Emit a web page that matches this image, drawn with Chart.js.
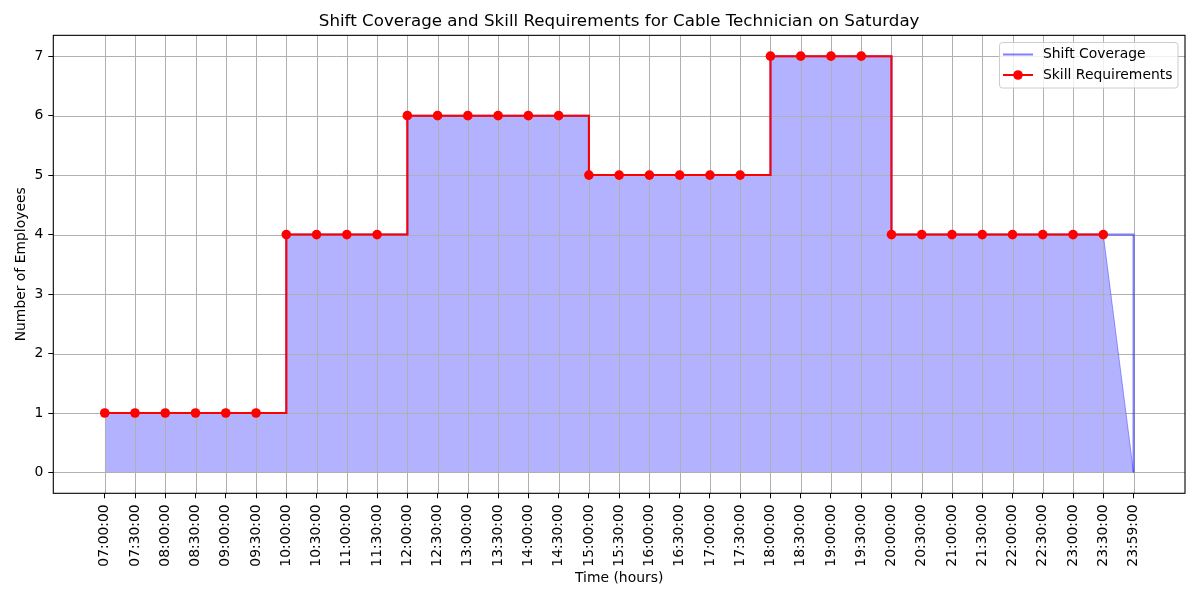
<!DOCTYPE html>
<html>
<head>
<meta charset="utf-8">
<title>Shift Coverage and Skill Requirements</title>
<script src="https://cdn.jsdelivr.net/npm/chart.js@4"></script>
<style>
    html, body { margin: 0; padding: 0; background: #ffffff; }
    #wrap { width: 1200px; height: 600px; }
</style>
</head>
<body>
<div id="wrap"><canvas id="shiftChart" width="1200" height="600"></canvas></div>
<script>
        // Time slots (category positions on the x axis)
        const timeLabels = [
            '07:00:00', '07:30:00', '08:00:00', '08:30:00', '09:00:00', '09:30:00',
            '10:00:00', '10:30:00', '11:00:00', '11:30:00', '12:00:00', '12:30:00',
            '13:00:00', '13:30:00', '14:00:00', '14:30:00', '15:00:00', '15:30:00',
            '16:00:00', '16:30:00', '17:00:00', '17:30:00', '18:00:00', '18:30:00',
            '19:00:00', '19:30:00', '20:00:00', '20:30:00', '21:00:00', '21:30:00',
            '22:00:00', '22:30:00', '23:00:00', '23:30:00', '23:59:00'
        ];
        // Employees required per slot (no value at 23:59)
        const skillRequirements = [
            1, 1, 1, 1, 1, 1,
            4, 4, 4, 4,
            6, 6, 6, 6, 6, 6,
            5, 5, 5, 5, 5, 5,
            7, 7, 7, 7,
            4, 4, 4, 4, 4, 4, 4, 4,
            null
        ];
        // Employees on shift per slot
        const shiftCoverage = [
            1, 1, 1, 1, 1, 1,
            4, 4, 4, 4,
            6, 6, 6, 6, 6, 6,
            5, 5, 5, 5, 5, 5,
            7, 7, 7, 7,
            4, 4, 4, 4, 4, 4, 4, 4,
            0
        ];
        const yTicks = [0, 1, 2, 3, 4, 5, 6, 7];

        const FONT = "'DejaVu Sans', sans-serif";
        const GRID = '#b0b0b0';

        // points on the numeric x axis (index of each time slot)
        function toPoints(values, from, to) {
            const pts = [];
            for (let i = from; i <= to; i++) {
                pts.push({ x: i, y: values[i] });
            }
            return pts;
        }
        const last = timeLabels.length - 1;

        // grid drawn over the filled area, under the lines
        const gridOverFill = {
            id: 'gridOverFill',
            beforeDatasetsDraw(chart) {
                const { ctx, chartArea, scales } = chart;
                ctx.save();
                ctx.strokeStyle = GRID;
                ctx.lineWidth = 1;
                ctx.beginPath();
                scales.x.ticks.forEach(t => {
                    const px = Math.round(scales.x.getPixelForValue(t.value)) + 0.5;
                    ctx.moveTo(px, chartArea.top);
                    ctx.lineTo(px, chartArea.bottom);
                });
                scales.y.ticks.forEach(t => {
                    const py = Math.round(scales.y.getPixelForValue(t.value)) + 0.5;
                    ctx.moveTo(chartArea.left, py);
                    ctx.lineTo(chartArea.right, py);
                });
                ctx.stroke();
                ctx.restore();
            }
        };

        // axes frame and legend box in the upper right
        const frameAndLegend = {
            id: 'frameAndLegend',
            afterDatasetsDraw(chart) {
                const { ctx, chartArea } = chart;
                ctx.save();
                ctx.strokeStyle = '#000000';
                ctx.lineWidth = 1.1;
                ctx.strokeRect(chartArea.left, chartArea.top,
                    chartArea.right - chartArea.left, chartArea.bottom - chartArea.top);

                // legend
                const bx = 999.5, by = 42.5, bw = 178.5, bh = 45.5;
                ctx.beginPath();
                ctx.roundRect(bx, by, bw, bh, 3);
                ctx.fillStyle = 'rgba(255,255,255,0.8)';
                ctx.fill();
                ctx.strokeStyle = '#cccccc';
                ctx.lineWidth = 1;
                ctx.stroke();

                const items = [chart.data.datasets[1], chart.data.datasets[0]];
                const rows = [54.5, 75];
                items.forEach((ds, k) => {
                    const y = rows[k];
                    ctx.beginPath();
                    ctx.strokeStyle = ds.borderColor;
                    ctx.lineWidth = ds.borderWidth;
                    ctx.moveTo(1003, y);
                    ctx.lineTo(1033, y);
                    ctx.stroke();
                    if (ds.pointRadius > 0) {
                        ctx.beginPath();
                        ctx.fillStyle = ds.pointBackgroundColor;
                        ctx.arc(1018, y, ds.pointRadius, 0, Math.PI * 2);
                        ctx.fill();
                    }
                    ctx.fillStyle = '#000000';
                    ctx.font = '13.9px ' + FONT;
                    ctx.textBaseline = 'middle';
                    ctx.textAlign = 'left';
                    ctx.fillText(ds.label, 1043, y);
                });
                ctx.restore();
            }
        };

        const ctx = document.getElementById('shiftChart').getContext('2d');
        const shiftChart = new Chart(ctx, {
            type: 'line',
            data: {
                datasets: [
                    {
                        label: 'Skill Requirements',
                        data: toPoints(skillRequirements, 0, last - 1),
                        stepped: 'before',
                        borderColor: '#ff0000',
                        borderWidth: 2,
                        pointRadius: 4.8,
                        pointBackgroundColor: '#ff0000',
                        pointBorderColor: '#ff0000',
                        pointBorderWidth: 0,
                        fill: false,
                        order: 0
                    },
                    {
                        label: 'Shift Coverage',
                        data: toPoints(shiftCoverage, 0, last),
                        stepped: 'before',
                        borderColor: 'rgba(0,0,255,0.5)',
                        borderWidth: 2,
                        pointRadius: 0,
                        fill: false,
                        order: 1
                    },
                    {
                        label: 'coverage-area',
                        data: toPoints(shiftCoverage, 0, last - 1),
                        stepped: 'before',
                        borderColor: 'rgba(0,0,0,0)',
                        borderWidth: 0,
                        backgroundColor: 'rgba(0,0,255,0.3)',
                        pointRadius: 0,
                        fill: 'origin',
                        order: 2
                    },
                    {
                        label: 'coverage-area-end',
                        data: toPoints(shiftCoverage, last - 1, last),
                        borderColor: 'rgba(0,0,255,0.35)',
                        borderWidth: 1,
                        backgroundColor: 'rgba(0,0,255,0.3)',
                        pointRadius: 0,
                        fill: 'origin',
                        order: 3
                    }
                ]
            },
            options: {
                responsive: false,
                animation: false,
                devicePixelRatio: 1,
                layout: { padding: { left: 0, right: 15, top: 0, bottom: 0 } },
                plugins: {
                    legend: { display: false },
                    tooltip: { enabled: false },
                    filler: { drawTime: 'beforeDatasetsDraw' },
                    title: {
                        display: true,
                        text: 'Shift Coverage and Skill Requirements for Cable Technician on Saturday',
                        fullSize: false,
                        color: '#000000',
                        font: { family: FONT, size: 16.7, weight: 'normal' },
                        padding: { top: 12, bottom: 3.3 }
                    }
                },
                scales: {
                    x: {
                        type: 'linear',
                        min: -1.7,
                        max: last + 1.7,
                        afterBuildTicks: (scale) => {
                            scale.ticks = timeLabels.map((_, i) => ({ value: i }));
                        },
                        afterFit: (scale) => { scale.height = 106.7; },
                        ticks: {
                            autoSkip: false,
                            minRotation: 90,
                            maxRotation: 90,
                            padding: 6,
                            color: '#000000',
                            font: { family: FONT, size: 13.9 },
                            callback: (value) => timeLabels[value]
                        },
                        grid: {
                            color: 'rgba(0,0,0,0)',
                            lineWidth: 0.8,
                            tickColor: '#000000',
                            tickLength: 5,
                            tickWidth: 1
                        },
                        border: { display: false },
                        title: {
                            display: true,
                            text: 'Time (hours)',
                            color: '#000000',
                            font: { family: FONT, size: 13.9 },
                            padding: { top: 0, bottom: 13.6 }
                        }
                    },
                    y: {
                        type: 'linear',
                        min: -0.35,
                        max: 7.35,
                        afterBuildTicks: (scale) => {
                            scale.ticks = yTicks.map(v => ({ value: v }));
                        },
                        afterFit: (scale) => { scale.width = 53.3; },
                        ticks: {
                            padding: 5,
                            color: '#000000',
                            font: { family: FONT, size: 13.9 }
                        },
                        grid: {
                            color: 'rgba(0,0,0,0)',
                            lineWidth: 0.8,
                            tickColor: '#000000',
                            tickLength: 5,
                            tickWidth: 1
                        },
                        border: { display: false },
                        title: {
                            display: true,
                            text: 'Number of Employees',
                            color: '#000000',
                            font: { family: FONT, size: 13.9 },
                            padding: { top: 12.6, bottom: 0 }
                        }
                    }
                }
            },
            plugins: [gridOverFill, frameAndLegend]
        });
</script>
</body>
</html>
